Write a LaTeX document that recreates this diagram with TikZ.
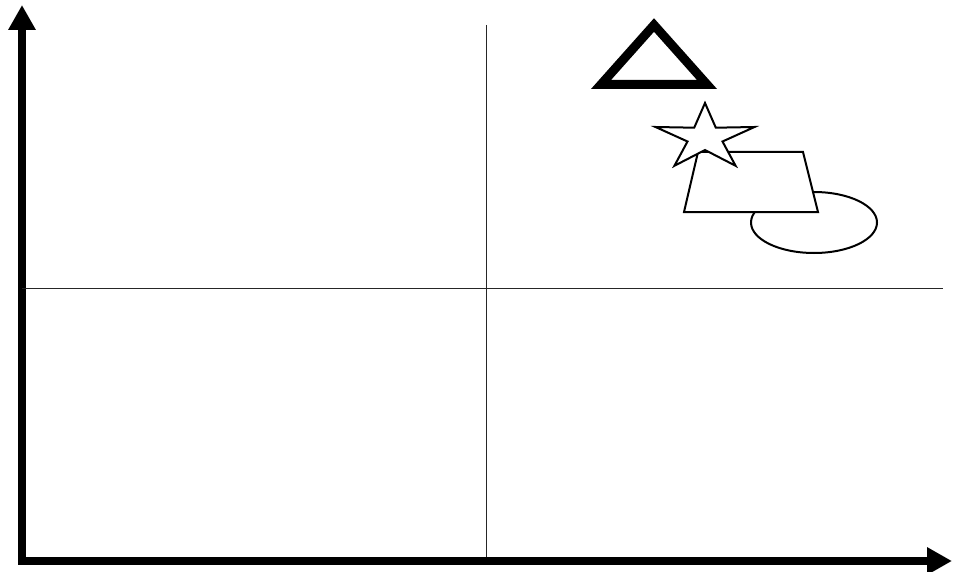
\documentclass[tikz,border=0pt]{standalone}
\usetikzlibrary{arrows.meta}

\begin{document}
\begin{tikzpicture}[
  x=1pt, y=-1pt,
  axis/.style={line width=8pt, -{Triangle[length=25pt,width=26pt]}},
  divider/.style={line width=1pt, black!85},
  shapeline/.style={draw, line width=2pt, fill=white, line join=miter},
  boldline/.style={draw, line width=9pt, line join=miter}
]
\useasboundingbox (0,0) rectangle (955,572);

% Axes
\coordinate (origin) at (22,561);
\coordinate (ytip) at (22,5);
\coordinate (xstart) at (18,561);
\coordinate (xtip) at (952,561);
\draw[axis] (origin) -- (ytip);
\draw[axis] (xstart) -- (xtip);

% Quadrant dividers
\coordinate (vtop) at (486,25);
\coordinate (vbot) at (486,557);
\coordinate (hleft) at (22,288);
\coordinate (hright) at (943,288);
\draw[divider] (vtop) -- (vbot);
\draw[divider] (hleft) -- (hright);

% Shapes in the upper right quadrant
\draw[shapeline] (814,222.5) ellipse [x radius=63, y radius=30.5];
\draw[shapeline] (698,152) -- (803,152) -- (818,212) -- (684,212) -- cycle;
\draw[shapeline] (705,103) -- (694.2,127.7) -- (655.5,127) -- (687.5,141.5)
  -- (674.4,165.8) -- (705,150) -- (735.6,165.8) -- (722.5,141.5)
  -- (754.5,127) -- (715.8,127.7) -- cycle;
\draw[boldline] (654,25) -- (707,84.5) -- (601,84.5) -- cycle;

\end{tikzpicture}
\end{document}
